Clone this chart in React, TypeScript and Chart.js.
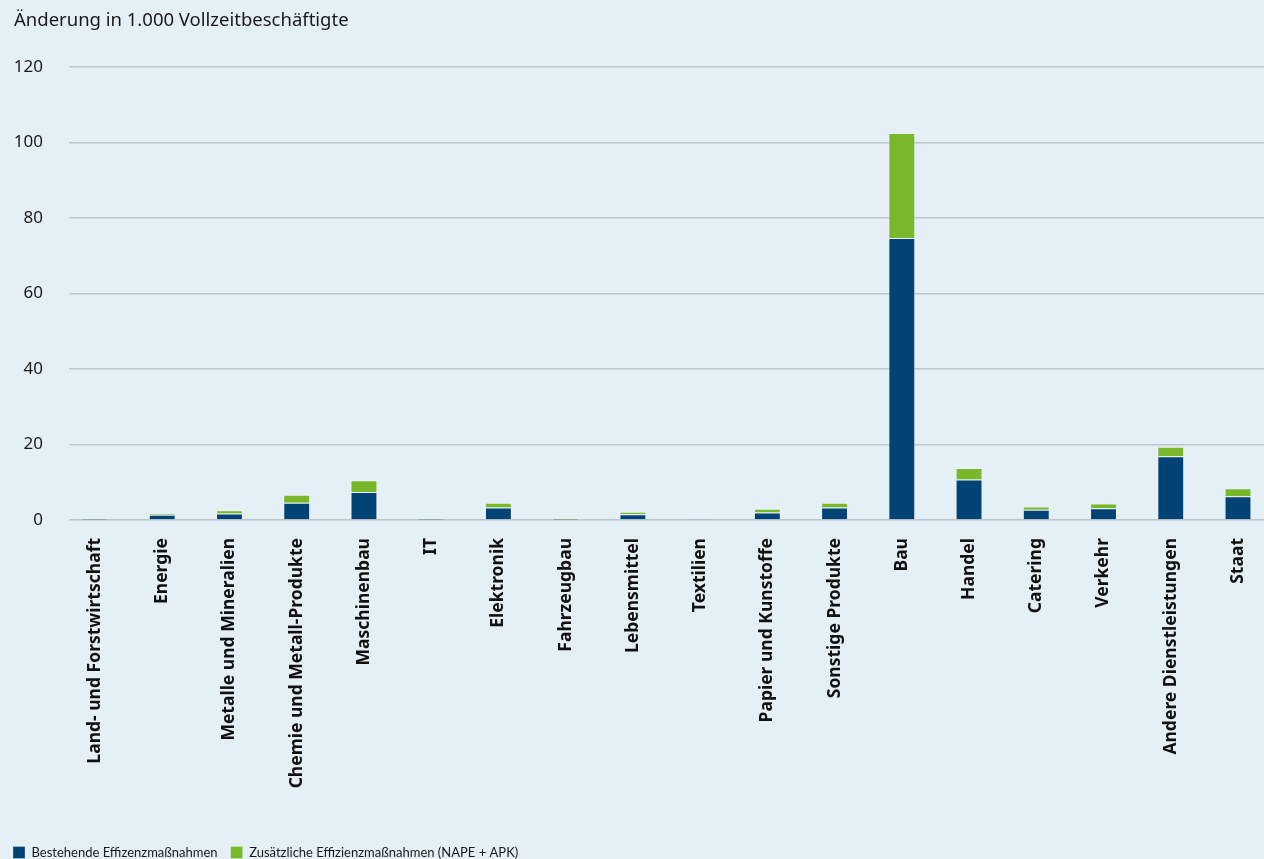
import React, { useEffect, useRef } from "react";
import { Chart, registerables } from "chart.js";

Chart.register(...registerables);

const titleText = "Änderung in 1.000 Vollzeitbeschäftigte";

const categories = [
  "Land- und Forstwirtschaft",
  "Energie",
  "Metalle und Mineralien",
  "Chemie und Metall-Produkte",
  "Maschinenbau",
  "IT",
  "Elektronik",
  "Fahrzeugbau",
  "Lebensmittel",
  "Textilien",
  "Papier und Kunstoffe",
  "Sonstige Produkte",
  "Bau",
  "Handel",
  "Catering",
  "Verkehr",
  "Andere Dienstleistungen",
  "Staat",
];

const bestehende = [0.05, 1.4, 1.7, 4.6, 7.4, 0.05, 3.3, 0.05, 1.5, 0.3, 2.0, 3.3, 74.7, 10.7, 2.7, 3.1, 16.9, 6.3];
const zusaetzlich = [0.3, 0.4, 0.9, 2.1, 3.1, 0.3, 1.3, 0.3, 0.7, 0.0, 1.0, 1.3, 27.8, 3.1, 0.9, 1.3, 2.5, 2.1];

const seriesLabels = ["Bestehende Effizenzmaßnahmen", "Zusätzliche Effizienzmaßnahmen (NAPE + APK)"];
const yTicks = [0, 20, 40, 60, 80, 100, 120];

const FONT = "'Noto Sans', sans-serif";

export default function App() {
  const ref = useRef<HTMLCanvasElement | null>(null);

  useEffect(() => {
    document.body.style.margin = "0";
    const canvas = ref.current;
    if (!canvas) return;

    const titlePlugin = {
      id: "leftTitle",
      afterDraw(chart: any) {
        const ctx = chart.ctx;
        ctx.save();
        ctx.font = `18.5px ${FONT}`;
        ctx.fillStyle = "#1a1a1a";
        ctx.textBaseline = "middle";
        ctx.textAlign = "left";
        ctx.fillText(titleText, 14, 21);
        ctx.restore();
      },
    };

    const chart = new Chart(canvas, {
      type: "bar",
      data: {
        datasets: [
          {
            label: seriesLabels[0],
            data: bestehende.map((v, i) => ({ x: i, y: v })),
            backgroundColor: "#004374",
            borderColor: "rgba(255,255,255,0.25)",
            borderWidth: 1,
            barPercentage: 0.4,
            categoryPercentage: 1,
          },
          {
            label: seriesLabels[1],
            data: zusaetzlich.map((v, i) => ({ x: i, y: v })),
            backgroundColor: "#79b72b",
            borderColor: "rgba(255,255,255,0.25)",
            borderWidth: 1,
            barPercentage: 0.4,
            categoryPercentage: 1,
          },
        ],
      },
      plugins: [titlePlugin],
      options: {
        animation: false,
        responsive: false,
        maintainAspectRatio: false,
        layout: { padding: { left: 0, right: 0, top: 67, bottom: -10 } },
        plugins: {
          title: { display: false },
          tooltip: { enabled: false },
          legend: {
            display: true,
            position: "bottom",
            align: "start",
            labels: {
              boxWidth: 12,
              boxHeight: 12,
              padding: 13,
              color: "#1a1a1a",
              font: { family: "Lato, sans-serif", size: 13 },
            },
          },
        },
        scales: {
          x: {
            type: "linear",
            stacked: true,
            offset: false,
            min: -0.387,
            max: 17.387,
            grid: { display: false },
            border: { display: false },
            afterBuildTicks: (scale: any) => {
              scale.ticks = categories.map((_, i) => ({ value: i }));
            },
            afterFit: (scale: any) => {
              scale.height = 313;
              scale.paddingLeft = 0;
              scale.paddingRight = 0;
            },
            ticks: {
              autoSkip: false,
              minRotation: 90,
              maxRotation: 90,
              padding: 10,
              color: "#111",
              font: { family: FONT, size: 17.5, weight: "bold" },
              callback: (value: any) => categories[Math.round(Number(value))] ?? "",
            },
          },
          y: {
            stacked: true,
            min: 0,
            max: 120,
            afterBuildTicks: (scale: any) => {
              scale.ticks = yTicks.map((v) => ({ value: v }));
            },
            afterFit: (scale: any) => {
              scale.width = 69;
            },
            grid: { color: "#bcc6cd", lineWidth: 1.5, drawTicks: false },
            border: { display: false },
            ticks: {
              padding: 26,
              color: "#1a1a1a",
              font: { family: FONT, size: 17 },
            },
          },
        },
      },
    } as any);

    return () => chart.destroy();
  }, []);

  return (
    <div style={{ position: "fixed", inset: 0, background: "#e5eff6" }}>
      <canvas ref={ref} width={1264} height={859} style={{ display: "block" }} />
    </div>
  );
}
